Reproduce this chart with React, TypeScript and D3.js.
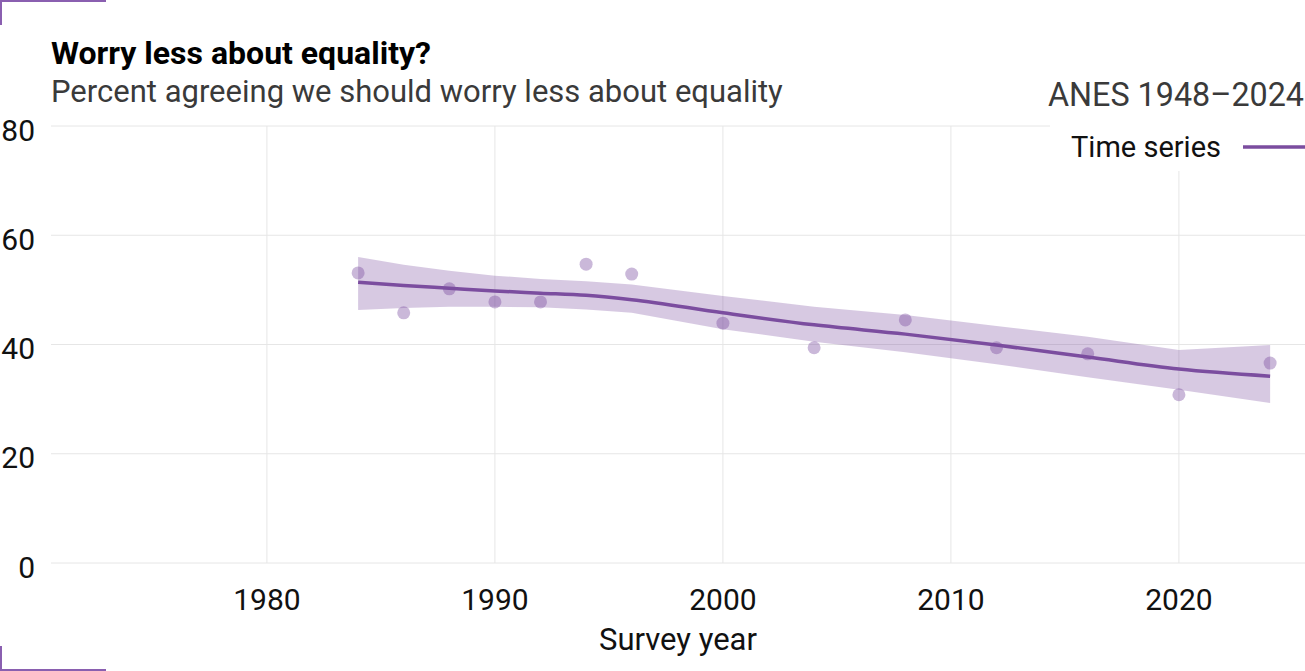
import { useEffect, useRef } from "react";
import * as d3 from "d3";

// survey years and observed percent agreeing
const years = [1984, 1986, 1988, 1990, 1992, 1994, 1996, 2000, 2004, 2008, 2012, 2016, 2020, 2024];
const observed = [53.1, 45.8, 50.2, 47.8, 47.8, 54.7, 52.9, 43.9, 39.4, 44.5, 39.4, 38.3, 30.8, 36.6];

// smoothed trend and its ribbon, read at the same years
const trend = [51.4, 50.8, 50.3, 49.8, 49.4, 49.0, 48.2, 45.8, 43.6, 41.9, 39.9, 37.7, 35.5, 34.2];
const upper = [56.0, 54.6, 53.5, 52.6, 52.0, 51.6, 51.0, 48.9, 46.9, 45.4, 43.4, 41.4, 39.0, 39.9];
const lower = [46.3, 46.7, 46.9, 46.9, 46.8, 46.4, 45.8, 42.8, 40.5, 38.6, 36.4, 34.0, 31.7, 29.3];

const yTicks = [0, 20, 40, 60, 80];
const xTicks = [1980, 1990, 2000, 2010, 2020];

const W = 1305;
const H = 671;
const plot = { left: 51, right: 1305, top: 126, bottom: 563 };
const purple = "#7b4d9f";
const font = "Roboto, 'Noto Sans', sans-serif";

export default function App() {
  const ref = useRef<SVGSVGElement>(null);

  useEffect(() => {
    const svg = d3.select(ref.current);
    svg.selectAll("*").remove();

    const x = d3.scaleLinear().domain([1970.53, 2025.53]).range([plot.left, plot.right]);
    const y = d3.scaleLinear().domain([0, 80]).range([plot.bottom, plot.top]);

    // grid
    const grid = svg.append("g").attr("stroke", "#e6e6e6").attr("stroke-width", 1);
    yTicks.forEach((t) => {
      grid.append("line").attr("x1", plot.left).attr("x2", plot.right).attr("y1", y(t)).attr("y2", y(t));
    });
    xTicks.forEach((t) => {
      grid.append("line").attr("x1", x(t)).attr("x2", x(t)).attr("y1", plot.top).attr("y2", plot.bottom);
    });

    // y labels
    svg
      .append("g")
      .selectAll("text")
      .data(yTicks)
      .join("text")
      .attr("x", 35)
      .attr("y", (d) => y(d) + 4)
      .attr("dominant-baseline", "central")
      .attr("text-anchor", "end")
      .attr("font-family", font)
      .attr("font-size", 30)
      .attr("fill", "#111")
      .text((d) => d);

    // x labels
    svg
      .append("g")
      .selectAll("text")
      .data(xTicks)
      .join("text")
      .attr("x", (d) => x(d))
      .attr("y", 599)
      .attr("dominant-baseline", "central")
      .attr("text-anchor", "middle")
      .attr("font-family", font)
      .attr("font-size", 30)
      .attr("fill", "#111")
      .text((d) => d);

    svg
      .append("text")
      .attr("x", (plot.left + plot.right) / 2)
      .attr("y", 639)
      .attr("dominant-baseline", "central")
      .attr("text-anchor", "middle")
      .attr("font-family", font)
      .attr("font-size", 31)
      .attr("fill", "#111")
      .text("Survey year");

    // ribbon
    const area = d3
      .area<number>()
      .x((d, i) => x(years[i]))
      .y0((d, i) => y(lower[i]))
      .y1((d) => y(d));
    svg.append("path").datum(upper).attr("d", area).attr("fill", purple).attr("fill-opacity", 0.3);

    // points
    svg
      .append("g")
      .selectAll("circle")
      .data(observed)
      .join("circle")
      .attr("cx", (d, i) => x(years[i]))
      .attr("cy", (d) => y(d))
      .attr("r", 6.5)
      .attr("fill", purple)
      .attr("fill-opacity", 0.4);

    // trend line
    const line = d3
      .line<number>()
      .x((d, i) => x(years[i]))
      .y((d) => y(d))
      .curve(d3.curveMonotoneX);
    svg
      .append("path")
      .datum(trend)
      .attr("d", line)
      .attr("fill", "none")
      .attr("stroke", purple)
      .attr("stroke-width", 3.5);

    // legend box
    svg.append("rect").attr("x", 1050).attr("y", 118).attr("width", 255).attr("height", 53).attr("fill", "white");
    svg
      .append("text")
      .attr("x", 1221)
      .attr("y", 147)
      .attr("dominant-baseline", "central")
      .attr("text-anchor", "end")
      .attr("font-family", font)
      .attr("font-size", 29)
      .attr("fill", "#111")
      .text("Time series");
    svg
      .append("line")
      .attr("x1", 1243)
      .attr("x2", 1305)
      .attr("y1", 147)
      .attr("y2", 147)
      .attr("stroke", purple)
      .attr("stroke-width", 3.5);

    // titles
    svg
      .append("text")
      .attr("x", 51)
      .attr("y", 64)
      .attr("font-family", font)
      .attr("font-weight", "bold")
      .attr("font-size", 32)
      .attr("fill", "#000")
      .text("Worry less about equality?");
    svg
      .append("text")
      .attr("x", 51)
      .attr("y", 102)
      .attr("font-family", font)
      .attr("font-size", 31)
      .attr("fill", "#3a3a3a")
      .text("Percent agreeing we should worry less about equality");
    svg
      .append("text")
      .attr("x", 1304)
      .attr("y", 106)
      .attr("text-anchor", "end")
      .attr("font-family", font)
      .attr("font-size", 32.3)
      .attr("fill", "#3a3a3a")
      .text("ANES 1948\u20132024");

    // corner marks
    const marks = svg.append("g").attr("stroke", "#8a5fb0").attr("stroke-width", 2).attr("fill", "none");
    marks.append("path").attr("d", "M1,25V1H106");
    marks.append("path").attr("d", "M1,646V670H106");
  }, []);

  return (
    <svg
      ref={ref}
      width={W}
      height={H}
      style={{ position: "absolute", left: 0, top: 0, background: "white" }}
    />
  );
}
